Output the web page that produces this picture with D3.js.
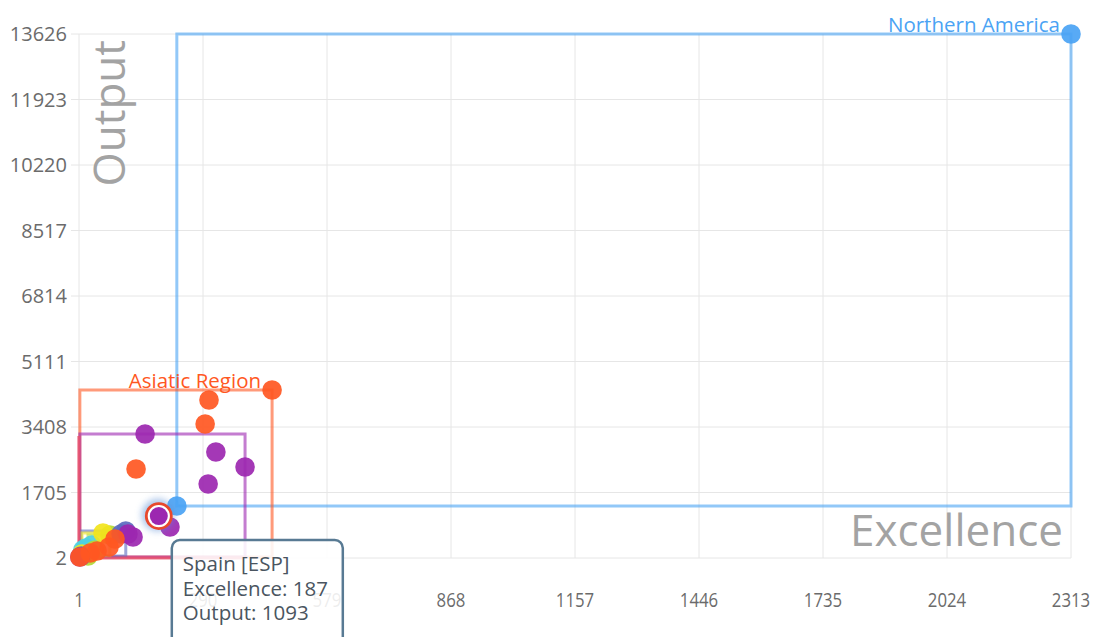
<!DOCTYPE html>
<html><head><meta charset="utf-8">
<script src="https://cdn.jsdelivr.net/npm/d3@7"></script>
<style>
html,body{margin:0;padding:0;background:#fff;}
svg{display:block;font-family:"Open Sans",sans-serif;}
</style></head>
<body>
<svg id="chart" width="1098" height="637"></svg>
<script>
// ---- data ----
const xTicks = [1, 290, 579, 868, 1157, 1446, 1735, 2024, 2313];
const yTicks = [2, 1705, 3408, 5111, 6814, 8517, 10220, 11923, 13626];

const groupNames  = ["Oceania", "Africa", "Latin America", "Eastern Europe", "Western Europe", "Asiatic Region", "Northern America"];
const groupColors = ["#4dd0e1", "#b3d935", "#f2e41c", "#5c6bc0", "#9c27b0", "#ff5722", "#4aa3f4"];
const labelledGroups = ["Northern America", "Asiatic Region"];

const ocExcellence = [10, 17, 31];
const ocOutput     = [210, 262, 340];
const afrExcellence = [73, 22, 38];
const afrOutput     = [600, 54, 210];
const latExcellence = [57, 8];
const latOutput     = [652, 106];
const eeuExcellence = [110, 99, 6];
const eeuOutput     = [704, 626, 54];
const weuExcellence = [3, 155, 320, 388, 302, 213, 187, 127, 115];
const weuOutput     = [28, 3226, 2758, 2368, 1926, 808, 1093, 548, 626];
const asiaExcellence = [451, 304, 295, 134, 71, 85, 43, 27, 3];
const asiaOutput     = [4370, 4110, 3486, 2316, 288, 496, 184, 132, 28];
const naExcellence = [2313, 229];
const naOutput     = [13626, 1354];

const hovered = {name: "Spain [ESP]", group: "Western Europe", excellence: 187, output: 1093};

const groupExcellence = [ocExcellence, afrExcellence, latExcellence, eeuExcellence, weuExcellence, asiaExcellence, naExcellence];
const groupOutput     = [ocOutput, afrOutput, latOutput, eeuOutput, weuOutput, asiaOutput, naOutput];

// ---- chart ----
const svg = d3.select("#chart");
const x = d3.scaleLinear().domain([1, 2313]).range([79, 1071]);
const y = d3.scaleLinear().domain([2, 13626]).range([558, 34]);

const groups = groupNames.map((name, i) => ({
  name, color: groupColors[i],
  points: groupExcellence[i].map((e, j) => ({excellence: e, output: groupOutput[i][j]}))
}));

// grid
const grid = svg.append("g");
grid.selectAll("line.v").data(xTicks).join("line")
  .attr("x1", d => x(d)).attr("x2", d => x(d))
  .attr("y1", y(13626)).attr("y2", y(2))
  .attr("stroke", "#e6e6e6").attr("stroke-width", 1);
grid.selectAll("line.h").data(yTicks).join("line")
  .attr("x1", x(1) - 8).attr("x2", x(2313))
  .attr("y1", d => y(d)).attr("y2", d => y(d))
  .attr("stroke", "#e6e6e6").attr("stroke-width", 1);

// axis labels
svg.append("g").selectAll("text").data(yTicks).join("text")
  .attr("x", 67).attr("y", d => y(d)).attr("dy", "0.36em")
  .attr("text-anchor", "end").attr("fill", "#6b6b6b").attr("font-size", 20)
  .text(d => d);
svg.append("g").selectAll("text").data(xTicks).join("text")
  .attr("transform", d => `translate(${x(d)},607) scale(0.84,1)`)
  .attr("text-anchor", "middle").attr("fill", "#6b6b6b").attr("font-size", 20)
  .text(d => d);

// axis titles
svg.append("text")
  .attr("transform", `translate(125,40) rotate(-90)`)
  .attr("text-anchor", "end").attr("fill", "#a3a3a3").attr("font-size", 44)
  .text("Output");
svg.append("text")
  .attr("x", 1063).attr("y", 546)
  .attr("text-anchor", "end").attr("fill", "#a3a3a3").attr("font-size", 44)
  .text("Excellence");

// group boxes
const boxes = svg.append("g");
groups.forEach(g => {
  const ex = d3.extent(g.points, p => p.excellence);
  const ou = d3.extent(g.points, p => p.output);
  g.box = {x0: x(ex[0]), x1: x(ex[1]), y0: y(ou[1]), y1: y(ou[0])};
});
boxes.selectAll("rect").data(groups.slice().reverse()).join("rect")
  .attr("x", g => g.box.x0).attr("y", g => g.box.y0)
  .attr("width", g => g.box.x1 - g.box.x0).attr("height", g => g.box.y1 - g.box.y0)
  .attr("fill", "none").attr("stroke", g => g.color)
  .attr("stroke-opacity", 0.6).attr("stroke-width", 3);

// highlight of hovered country's region (left + bottom edges)
const hg = groups.find(g => g.name === hovered.group);
{
  const w = hg.box.x1 - hg.box.x0, h = hg.box.y1 - hg.box.y0;
  svg.append("rect")
    .attr("x", hg.box.x0 - 1).attr("y", hg.box.y0 + 2)
    .attr("width", w).attr("height", h - 1)
    .attr("fill", "none").attr("stroke", "#e8506a").attr("stroke-opacity", 0.8)
    .attr("stroke-width", 3)
    .attr("stroke-dasharray", `0 ${w + h - 1} ${w + h - 1}`);
}

// group labels
svg.append("g").selectAll("text")
  .data(groups.filter(g => labelledGroups.includes(g.name))).join("text")
  .attr("x", g => g.box.x1 - 11).attr("y", g => g.box.y0 - 2)
  .attr("text-anchor", "end").attr("fill", g => g.color).attr("font-size", 20.5)
  .text(g => g.name);

// glow filter
const defs = svg.append("defs");
defs.append("filter").attr("id", "glow").attr("x", "-100%").attr("y", "-100%").attr("width", "300%").attr("height", "300%")
  .append("feGaussianBlur").attr("stdDeviation", 3.5);

// dots
const dots = svg.append("g");
groups.forEach(g => {
  dots.append("g").selectAll("circle").data(g.points).join("circle")
    .attr("cx", p => x(p.excellence)).attr("cy", p => y(p.output))
    .attr("r", 9.8).attr("fill", g.color).attr("fill-opacity", 0.92);
});

// hovered point
const hx = x(hovered.excellence), hy = y(hovered.output);
svg.append("circle").attr("cx", hx - 1).attr("cy", hy - 1).attr("r", 16)
  .attr("fill", "#5b8fd6").attr("opacity", 0.55).attr("filter", "url(#glow)");
svg.append("circle").attr("cx", hx).attr("cy", hy).attr("r", 12.5)
  .attr("fill", "#fff").attr("stroke", "#e8482c").attr("stroke-width", 2.8);
svg.append("circle").attr("cx", hx).attr("cy", hy).attr("r", 9)
  .attr("fill", hg.color);

// tooltip
const tt = svg.append("g").attr("transform", `translate(${hx + 13},${hy + 24})`);
tt.append("rect").attr("x", 0).attr("y", 0).attr("width", 171).attr("height", 110)
  .attr("rx", 8).attr("fill", "#fff").attr("fill-opacity", 0.88)
  .attr("stroke", "#587a93").attr("stroke-width", 2.5);
const lines = [hovered.name, `Excellence: ${hovered.excellence}`, `Output: ${hovered.output}`];
tt.selectAll("text.t").data(lines).join("text")
  .attr("x", 11).attr("y", (d, i) => 31 + i * 24.5)
  .attr("fill", "#4a5560").attr("font-size", 20.5)
  .text(d => d);
</script>
</body></html>
